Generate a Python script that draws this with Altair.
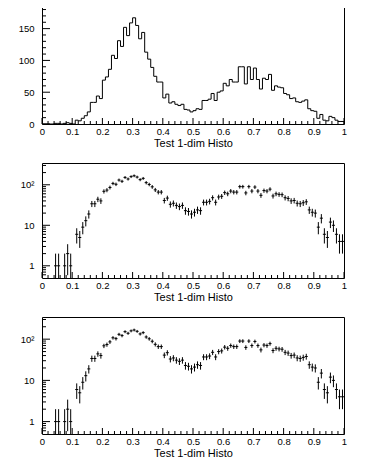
import math
import altair as alt
import pandas as pd

# ---------------- data ----------------
bin_low = 0.0
bin_high = 1.0
counts = [0, 0, 0, 0, 1, 1, 0, 1, 2, 1,
          0, 6, 5, 9, 13, 19, 34, 34, 44, 40,
          69, 74, 86, 108, 103, 131, 122, 152, 139, 159,
          167, 155, 134, 144, 113, 102, 89, 75, 66, 66,
          41, 47, 33, 35, 31, 29, 31, 23, 22, 19,
          21, 24, 23, 37, 37, 39, 48, 37, 50, 52,
          64, 60, 70, 66, 66, 90, 90, 63, 90, 70,
          88, 70, 55, 72, 70, 78, 53, 60, 58, 57,
          48, 46, 40, 41, 35, 34, 36, 38, 24, 21,
          20, 9, 15, 6, 5, 12, 10, 6, 4, 4]
x_major = [0, 0.1, 0.2, 0.3, 0.4, 0.5, 0.6, 0.7, 0.8, 0.9, 1.0]
x_minor = [i / 50 for i in range(51) if i % 5]
lin_major = [0, 50, 100, 150]
lin_minor = [v for v in range(0, 181, 10) if v % 50]
log_major = [1, 10, 100]
log_minor = [0.6, 0.7, 0.8, 0.9, 2, 3, 4, 5, 6, 7, 8, 9,
             20, 30, 40, 50, 60, 70, 80, 90, 200, 300]
x_title = "Test 1-dim Histo"

# ---------------- derived tables ----------------
LIN_DOMAIN = [0, 184]
LOG_DOMAIN = [0.5, 345]
n = len(counts)
w = (bin_high - bin_low) / n
lows = [bin_low + i * w for i in range(n)]

hist_df = pd.DataFrame({"x": lows + [bin_high, bin_high],
                        "y": counts + [counts[-1], 0]})
rows = []
for i, c in enumerate(counts):
    if c > 0:
        e = math.sqrt(c)
        rows.append({"x": lows[i], "x2": lows[i] + w, "xc": lows[i] + w / 2,
                     "y": c, "ylo": max(c - e, LOG_DOMAIN[0]), "yhi": c + e})
err_df = pd.DataFrame(rows)

PW = 302
FONT = "Liberation Sans"


def xs():
    return alt.Scale(domain=[bin_low, bin_high], nice=False, zero=False)


def ylin():
    return alt.Scale(domain=LIN_DOMAIN, nice=False, zero=False)


def ylog():
    return alt.Scale(type="log", domain=LOG_DOMAIN, nice=False)


def xaxis():
    return alt.Axis(values=x_major, format="~g", title=x_title, labelFlush=False,
                    labelOverlap=False, domain=False, ticks=False, grid=False,
                    labelPadding=2, titlePadding=2)


def ylin_axis():
    return alt.Axis(values=lin_major, title=None, domain=False, ticks=False,
                    grid=False, labelPadding=8, labelOverlap=False)


def ylog_axis():
    return alt.Axis(values=log_major, title=None, domain=False, ticks=False,
                    grid=False, labelPadding=8, labelOverlap=False,
                    labelExpr="datum.value > 50 ? '10²' : datum.value > 5 ? '10' : '1'")


XMAJ, XMIN = 6, 3
YMAJ, YMIN = 8, 4


def tick_layers(H, yscale, yaxis, ymaj, ymin):
    out = []
    for vals, ln in ((x_major, XMAJ), (x_minor, XMIN)):
        out.append(alt.Chart(pd.DataFrame({"x": vals})).mark_rule(color="black").encode(
            x=alt.X("x:Q", scale=xs(), axis=xaxis()), y=alt.value(H), y2=alt.value(H - ln)))
    for vals, ln in ((ymaj, YMAJ), (ymin, YMIN)):
        out.append(alt.Chart(pd.DataFrame({"y": vals})).mark_rule(color="black", clip=True).encode(
            y=alt.Y("y:Q", scale=yscale(), axis=yaxis()), x=alt.value(0), x2=alt.value(ln)))
    return out


def hist_panel(H):
    line = alt.Chart(hist_df).mark_line(interpolate="step-after", color="black",
                                        strokeWidth=1).encode(
        x=alt.X("x:Q", scale=xs(), axis=xaxis()),
        y=alt.Y("y:Q", scale=ylin(), axis=ylin_axis()))
    return alt.layer(line, *tick_layers(H, ylin, ylin_axis, lin_major, lin_minor)).properties(
        width=PW, height=H)


def err_panel(H):
    hbar = alt.Chart(err_df).mark_rule(color="black", clip=True).encode(
        x=alt.X("x:Q", scale=xs(), axis=xaxis()), x2="x2:Q",
        y=alt.Y("y:Q", scale=ylog(), axis=ylog_axis()))
    vbar = alt.Chart(err_df).mark_rule(color="black", clip=True).encode(
        x=alt.X("xc:Q", scale=xs(), axis=xaxis()),
        y=alt.Y("ylo:Q", scale=ylog(), axis=ylog_axis()), y2="yhi:Q")
    return alt.layer(hbar, vbar, *tick_layers(H, ylog, ylog_axis, log_major, log_minor)).properties(
        width=PW, height=H)


chart = alt.vconcat(hist_panel(117), err_panel(115), err_panel(117),
                    spacing=39, bounds="flush").resolve_scale(
    x="independent", y="independent").properties(
    padding={"left": 9, "top": -2, "right": 0, "bottom": 0}
).configure_view(stroke="black", strokeWidth=1).configure_axis(
    labelFont=FONT, labelFontSize=9.5, labelColor="black",
    titleFont=FONT, titleFontSize=11, titleFontWeight="normal", titleColor="black")

chart.save("out.html", embed_options={"renderer": "svg", "actions": False})
